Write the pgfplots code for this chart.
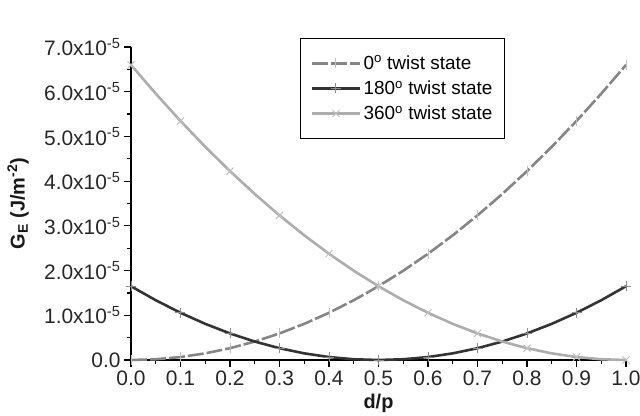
\documentclass[border=0pt]{standalone}
\usepackage{fontspec}
\setmainfont{Liberation Sans}
\usepackage{pgfplots}
\pgfplotsset{compat=1.18}
\definecolor{zeroc}{HTML}{858585}
\definecolor{halfc}{HTML}{333333}
\definecolor{fullc}{HTML}{ADADAD}

\begin{document}
\begin{tikzpicture}
\begin{axis}[
  scale only axis, width=495bp, height=313bp,
  at={(0,0)}, anchor=south west,
  xmin=0, xmax=1, ymin=0, ymax=7,
  clip=false,
  axis lines*=left,
  axis line style={line width=1.3pt,black},
  xtick={0,0.1,0.2,0.3,0.4,0.5,0.6,0.7,0.8,0.9,1.0},
  xticklabels={0.0,0.1,0.2,0.3,0.4,0.5,0.6,0.7,0.8,0.9,1.0},
  ytick={0,1,2,3,4,5,6,7},
  yticklabels={0.0,1.0x10\textsuperscript{-5},2.0x10\textsuperscript{-5},3.0x10\textsuperscript{-5},
    4.0x10\textsuperscript{-5},5.0x10\textsuperscript{-5},6.0x10\textsuperscript{-5},7.0x10\textsuperscript{-5}},
  minor x tick num=1, minor y tick num=1,
  tick align=outside, major tick length=7bp, minor tick length=4bp,
  tick style={line width=1.2pt,black},
  ticklabel style={font=\fontsize{21}{25}\selectfont, text=black!85},
  xlabel={\textbf{d/p}},
  ylabel={\textbf{G\textsubscript{E} (J/m\textsuperscript{-2})}},
  label style={font=\fontsize{20}{24}\selectfont, text=black!90},
  xlabel style={at={(axis description cs:0.5,-0.14)}, anchor=center},
  ylabel style={at={(axis description cs:-0.228,0.5)}, anchor=center},
  legend style={at={(axis description cs:0.341,1.029)}, anchor=north west,
    draw=black, line width=1.2pt, font=\fontsize{19}{23}\selectfont,
    inner xsep=10bp, inner ysep=15bp, row sep=6bp, cells={anchor=west}},
  legend image code/.code={\draw[line width=3pt,mark repeat=2,mark phase=2] plot coordinates {(0cm,0cm) (0.85cm,0cm) (1.7cm,0cm)};},
  every axis plot/.append style={line width=2.6pt, mark size=5bp, mark repeat=2},
]
\addplot[color=zeroc, dash pattern=on 16bp off 3bp, mark=|, mark options={solid,line width=1pt,draw=black!25}] coordinates {
(0,0) (0.05,0.0165) (0.1,0.066) (0.15,0.1485) (0.2,0.264) (0.25,0.4125) (0.3,0.594) (0.35,0.8085)
(0.4,1.056) (0.45,1.3365) (0.5,1.65) (0.55,1.9965) (0.6,2.376) (0.65,2.7885) (0.7,3.234)
(0.75,3.7125) (0.8,4.224) (0.85,4.7685) (0.9,5.346) (0.95,5.9565) (1.0,6.6)};
\addplot[color=halfc, mark=+, mark options={solid,line width=1pt,draw=black!45}] coordinates {
(0,1.65) (0.05,1.3365) (0.1,1.056) (0.15,0.8085) (0.2,0.594) (0.25,0.4125) (0.3,0.264) (0.35,0.1485)
(0.4,0.066) (0.45,0.0165) (0.5,0) (0.55,0.0165) (0.6,0.066) (0.65,0.1485) (0.7,0.264)
(0.75,0.4125) (0.8,0.594) (0.85,0.8085) (0.9,1.056) (0.95,1.3365) (1.0,1.65)};
\addplot[color=fullc, mark=x, mark options={solid,line width=1pt,draw=black!25}] coordinates {
(0,6.6) (0.05,5.9565) (0.1,5.346) (0.15,4.7685) (0.2,4.224) (0.25,3.7125) (0.3,3.234) (0.35,2.7885)
(0.4,2.376) (0.45,1.9965) (0.5,1.65) (0.55,1.3365) (0.6,1.056) (0.65,0.8085) (0.7,0.594)
(0.75,0.4125) (0.8,0.264) (0.85,0.1485) (0.9,0.066) (0.95,0.0165) (1.0,0)};
\legend{0\textsuperscript{o} twist state,180\textsuperscript{o} twist state,360\textsuperscript{o} twist state}
\end{axis}
\pgfresetboundingbox
\path (-131bp,-56bp) rectangle (509bp,360bp);
\end{tikzpicture}
\end{document}
